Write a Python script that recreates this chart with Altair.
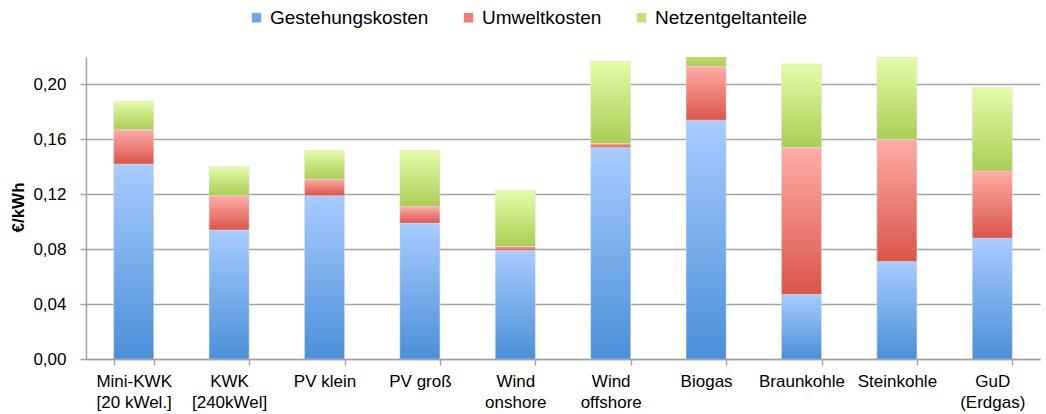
import altair as alt
import pandas as pd

categories = ["Mini-KWK\n[20 kWel.]", "KWK\n[240kWel]", "PV klein", "PV groß", "Wind\nonshore",
              "Wind\noffshore", "Biogas", "Braunkohle", "Steinkohle", "GuD\n(Erdgas)"]
series_names = ["Gestehungskosten", "Umweltkosten", "Netzentgeltanteile"]
gestehung = [0.142, 0.094, 0.119, 0.099, 0.079, 0.154, 0.174, 0.047, 0.071, 0.088]
umwelt = [0.025, 0.025, 0.012, 0.012, 0.003, 0.003, 0.039, 0.107, 0.089, 0.049]
netz = [0.021, 0.021, 0.021, 0.041, 0.041, 0.060, 0.021, 0.061, 0.060, 0.061]
y_ticks = [0.0, 0.04, 0.08, 0.12, 0.16, 0.20]

rows = []
for i, c in enumerate(categories):
    for j, (s, vals) in enumerate(zip(series_names, [gestehung, umwelt, netz])):
        rows.append({"cat": c, "series": s, "order": j, "value": vals[i]})
df = pd.DataFrame(rows)

def grad(bottom, top):
    return alt.Gradient(gradient="linear",
                        stops=[alt.GradientStop(color=bottom, offset=0),
                               alt.GradientStop(color=top, offset=1)],
                        x1=0, x2=0, y1=1, y2=0)

fills = {
    "Gestehungskosten": grad("#4A8FD8", "#A8CCFF"),
    "Umweltkosten": grad("#DA5548", "#FFACA8"),
    "Netzentgeltanteile": grad("#ABCD55", "#E4FCA9"),
}
legend_colors = ["#6FA6E6", "#EE7F77", "#C3E27A"]

x_enc = alt.X("cat:N", sort=categories, title=None,
              scale=alt.Scale(paddingInner=0.58, paddingOuter=0.29),
              axis=alt.Axis(labelAngle=0, labelExpr="split(datum.label, '\\n')",
                            tickBand="extent", grid=False, labelLineHeight=21,
                            tickSize=6, labelPadding=8, labelFontSize=17))
y_scale = alt.Scale(domain=[0, 0.22], nice=False)

base = alt.Chart(df).transform_stack(
    stack="value", groupby=["cat"], as_=["y0", "y1"],
    sort=[alt.SortField("order", order="ascending")])

layers = []
first = True
for s in series_names:
    y_enc = alt.Y("y0:Q", scale=y_scale, title="€/kWh",
                  axis=alt.Axis(values=y_ticks, format=".2f",
                                labelExpr="replace(datum.label, '.', ',')",
                                tickSize=6, labelPadding=14, labelFontSize=17,
                                titleFontSize=17, titleFontWeight="bold",
                                titleX=-68, titleY=150, titleAngle=-90,
                                titleBaseline="middle", titleAlign="center")) if first else alt.Y("y0:Q", scale=y_scale)
    first = False
    layers.append(
        base.transform_filter(alt.datum.series == s)
        .mark_bar(fill=fills[s], clip=True, stroke="#E2E2E2", strokeWidth=0.6, strokeOpacity=0.8)
        .encode(x=x_enc, y=y_enc, y2="y1:Q")
    )

legend_layer = base.mark_square(opacity=0).encode(
    x=alt.X("cat:N", sort=categories),
    y=alt.Y("y1:Q", scale=y_scale),
    color=alt.Color("series:N", scale=alt.Scale(domain=series_names, range=legend_colors),
                    legend=alt.Legend(title=None, orient="none", direction="horizontal",
                                      legendX=161, legendY=-49, symbolType="square",
                                      symbolSize=90, symbolOpacity=1, symbolStrokeWidth=0,
                                      labelFontSize=19, labelOffset=4, columnPadding=30,
                                      labelColor="black")))

chart = alt.layer(*layers, legend_layer).properties(
    width=954, height=302,
    autosize=alt.AutoSizeParams(type="none"),
    padding={"left": 86, "top": 57, "right": 6, "bottom": 55},
).configure(font="Liberation Sans").configure_axis(
    gridColor="#A3A3A3", gridWidth=1.5, domainColor="#A3A3A3", domainWidth=1.5,
    tickColor="#A3A3A3", tickWidth=1.5, labelColor="black", titleColor="black",
    labelFont="Liberation Sans", titleFont="Liberation Sans"
).configure_view(stroke=None).configure_legend(labelFont="Liberation Sans")

chart.save("out.html", embed_options={"renderer": "svg", "actions": False})
